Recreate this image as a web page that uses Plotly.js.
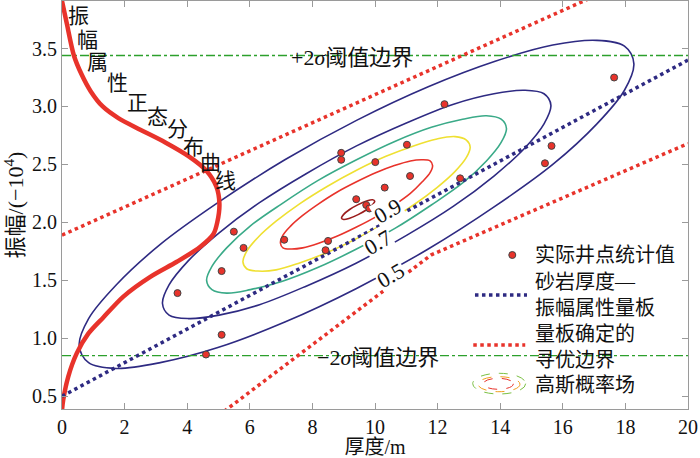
<!DOCTYPE html>
<html>
<head>
<meta charset="utf-8">
<script src="https://cdn.plot.ly/plotly-3.0.1.min.js"></script>
<style>html,body{margin:0;padding:0;background:#fff;}#chart{width:700px;height:458px;}</style>
</head>
<body>
<div id="chart"></div>
<script>
// ---- data ----
const xTicks = [0, 2, 4, 6, 8, 10, 12, 14, 16, 18, 20];
const yTicks = [0.5, 1.0, 1.5, 2.0, 2.5, 3.0, 3.5];
const yTickText = ['0.5', '1.0', '1.5', '2.0', '2.5', '3.0', '3.5'];

// well statistics (thickness m, amplitude)
const wellX = [3.69, 4.60, 5.10, 5.10, 5.49, 5.80, 7.10, 8.50, 8.42, 8.92, 8.92, 9.40, 9.72, 9.82, 10.01, 10.31, 11.02, 11.12, 12.22, 12.72, 15.43, 15.64, 17.64];
const wellY = [1.39, 0.86, 1.58, 1.03, 1.92, 1.78, 1.85, 1.84, 1.76, 2.60, 2.54, 2.20, 2.15, 2.12, 2.52, 2.30, 2.67, 2.40, 3.02, 2.38, 2.51, 2.66, 3.25];

// sand thickness - amplitude plate
const plateX = [0, 20];
const plateY = [0.50, 3.40];

// optimisation boundaries
const upperX = [0, 17];
const upperY = [1.89, 3.95];
const lowerX = [5.18, 11.8, 20];
const lowerY = [0.37, 1.72, 2.68];

// ±2σ thresholds
const sigmaX = [0, 20];
const plus2Sigma = 3.44;
const minus2Sigma = 0.85;

// amplitude normal distribution curve
const normX = [0.00, 0.15, 0.38, 0.62, 0.92, 1.30, 1.80, 2.50, 3.30, 4.05, 4.60, 4.93, 5.03, 4.96, 4.84, 4.42, 3.67, 2.82, 1.96, 1.32, 0.84, 0.47, 0.20, 0.04, 0.00];
const normY = [3.91, 3.72, 3.44, 3.28, 3.13, 3.00, 2.90, 2.80, 2.69, 2.57, 2.45, 2.31, 2.16, 2.00, 1.90, 1.79, 1.66, 1.53, 1.36, 1.18, 1.04, 0.87, 0.67, 0.47, 0.38];
const normLabel = ['振', '幅', '属', '性', '正', '态', '分', '布', '曲', '线'];
const normLabelX = [0.54, 0.83, 1.15, 1.76, 2.40, 3.04, 3.68, 4.19, 4.74, 5.22];
const normLabelY = [3.78, 3.57, 3.38, 3.20, 3.03, 2.905, 2.81, 2.65, 2.51, 2.36];

// Gaussian probability field contours (read outlines)
const outerX = [18.27, 17.97, 17.09, 15.68, 13.84, 11.70, 9.41, 7.12, 4.98, 3.14, 1.73, 0.85, 0.55, 0.85, 1.73, 3.14, 4.98, 7.12, 9.41, 11.70, 13.84, 15.68, 17.09, 17.97, 18.27];
const outerY = [3.37, 3.14, 2.85, 2.50, 2.14, 1.77, 1.43, 1.14, 0.92, 0.79, 0.74, 0.79, 0.94, 1.17, 1.46, 1.81, 2.17, 2.54, 2.88, 3.17, 3.39, 3.53, 3.57, 3.52, 3.37];
const c05X = [15.62, 15.40, 14.78, 13.80, 12.51, 11.02, 9.41, 7.80, 6.31, 5.02, 4.04, 3.42, 3.21, 3.42, 4.04, 5.02, 6.31, 7.80, 9.41, 11.02, 12.51, 13.80, 14.78, 15.40, 15.62];
const c05Y = [3.01, 2.85, 2.64, 2.40, 2.14, 1.89, 1.65, 1.45, 1.29, 1.20, 1.17, 1.20, 1.30, 1.46, 1.67, 1.91, 2.17, 2.42, 2.66, 2.86, 3.02, 3.11, 3.14, 3.11, 3.01];
const c07X = [14.20, 14.03, 13.56, 12.80, 11.80, 10.65, 9.41, 8.17, 7.02, 6.02, 5.26, 4.79, 4.62, 4.79, 5.26, 6.02, 7.02, 8.17, 9.41, 10.65, 11.80, 12.80, 13.56, 14.03, 14.20];
const c07Y = [2.81, 2.69, 2.53, 2.34, 2.15, 1.95, 1.77, 1.61, 1.49, 1.42, 1.39, 1.42, 1.50, 1.62, 1.78, 1.97, 2.16, 2.36, 2.54, 2.70, 2.82, 2.89, 2.92, 2.89, 2.81];
const c08X = [13.04, 12.92, 12.56, 11.98, 11.23, 10.35, 9.41, 8.47, 7.59, 6.84, 6.26, 5.90, 5.78, 5.90, 6.26, 6.84, 7.59, 8.47, 9.41, 10.35, 11.23, 11.98, 12.56, 12.92, 13.04];
const c08Y = [2.65, 2.56, 2.44, 2.30, 2.15, 2.00, 1.86, 1.74, 1.65, 1.59, 1.58, 1.60, 1.66, 1.75, 1.87, 2.01, 2.16, 2.31, 2.45, 2.57, 2.66, 2.72, 2.74, 2.71, 2.65];
const c09X = [11.84, 11.76, 11.51, 11.13, 10.62, 10.04, 9.41, 8.78, 8.20, 7.69, 7.31, 7.06, 6.98, 7.06, 7.31, 7.69, 8.20, 8.78, 9.41, 10.04, 10.62, 11.13, 11.51, 11.76, 11.84];
const c09Y = [2.49, 2.43, 2.35, 2.25, 2.15, 2.05, 1.96, 1.88, 1.82, 1.78, 1.77, 1.78, 1.82, 1.89, 1.97, 2.06, 2.16, 2.26, 2.35, 2.43, 2.49, 2.53, 2.54, 2.53, 2.49];
const c10X = [9.99, 9.92, 9.73, 9.46, 9.19, 9.00, 8.93, 9.00, 9.19, 9.46, 9.73, 9.92, 9.99];
const c10Y = [2.183, 2.151, 2.109, 2.067, 2.036, 2.025, 2.037, 2.069, 2.111, 2.153, 2.184, 2.195, 2.183];

const contourLabels = ['0.9', '0.7', '0.5'];
const contourLabelX = [10.43, 10.08, 10.50];
const contourLabelY = [2.10, 1.83, 1.54];

// legend entries
const legendEntries = ['实际井点统计值', '砂岩厚度—<br>振幅属性量板', '量板确定的<br>寻优边界', '高斯概率场'];
const legendEntryY = [0.3775, 0.2800, 0.1520, 0.0588];

// ---- styling ----
const FONT = 'Liberation Serif, Noto Sans CJK SC, serif';
const NAVY = '#2e2a82';
const RED = '#e8332b';
const GREEN = '#2ca02c';

function loop(x, y, color) {
  return {x: x, y: y, mode: 'lines', type: 'scatter', showlegend: false, hoverinfo: 'skip',
          line: {color: color, width: 1.6, shape: 'spline', smoothing: 1}};
}

const traces = [
  Object.assign(loop(outerX, outerY, NAVY), {name: '高斯概率场'}),
  loop(c05X, c05Y, NAVY),
  loop(c07X, c07Y, '#3aaa88'),
  loop(c08X, c08Y, '#efe032'),
  loop(c09X, c09Y, RED),
  loop(c10X, c10Y, '#9b1c1c'),
  {x: sigmaX, y: [plus2Sigma, plus2Sigma], mode: 'lines', showlegend: false, line: {color: GREEN, width: 1.3, dash: 'dashdot'}},
  {x: sigmaX, y: [minus2Sigma, minus2Sigma], mode: 'lines', showlegend: false, line: {color: GREEN, width: 1.3, dash: 'dashdot'}},
  {x: normX, y: normY, mode: 'lines', showlegend: false, line: {color: RED, width: 4.5, shape: 'spline', smoothing: 0.8}},
  {x: upperX, y: upperY, mode: 'lines', name: '量板确定的寻优边界', showlegend: false, line: {color: RED, width: 3.5, dash: 'dot'}},
  {x: lowerX, y: lowerY, mode: 'lines', showlegend: false, line: {color: RED, width: 3.5, dash: 'dot'}},
  {x: plateX, y: plateY, mode: 'lines', name: '砂岩厚度—振幅属性量板', showlegend: false, line: {color: NAVY, width: 3.5, dash: 'dot'}},
  {x: wellX, y: wellY, mode: 'markers', name: '实际井点统计值', showlegend: false,
   marker: {color: RED, size: 7, line: {color: '#444', width: 1}}}
];

const annotations = [];
normLabel.forEach((t, i) => annotations.push({x: normLabelX[i], y: normLabelY[i], text: t, showarrow: false,
  font: {family: FONT, size: 21, color: '#111'}}));
contourLabels.forEach((t, i) => annotations.push({x: contourLabelX[i], y: contourLabelY[i], text: t, showarrow: false,
  textangle: -30, bgcolor: '#ffffff', borderpad: 0, font: {family: FONT, size: 22, color: '#111'}}));
annotations.push({x: 9.28, y: 3.42, text: '+2<i>σ</i>阈值边界', showarrow: false, font: {family: FONT, size: 22, color: '#111'}});
annotations.push({x: 10.1, y: 0.835, text: '−2<i>σ</i>阈值边界', showarrow: false, font: {family: FONT, size: 22, color: '#111'}});
legendEntries.forEach((t, i) => annotations.push({xref: 'paper', yref: 'paper', x: 0.7524, y: legendEntryY[i], text: t,
  xanchor: 'left', yanchor: 'middle', align: 'left', showarrow: false, font: {family: FONT, size: 20, color: '#111'}}));

// legend glyphs
const shapes = [
  {type: 'circle', xref: 'paper', yref: 'paper', x0: 0.7137, x1: 0.7249, y0: 0.3689, y1: 0.3860, fillcolor: RED, line: {color: '#444', width: 1}},
  {type: 'line', xref: 'paper', yref: 'paper', x0: 0.6597, x1: 0.7428, y0: 0.2794, y1: 0.2794, line: {color: NAVY, width: 3.5, dash: 'dot'}},
  {type: 'line', xref: 'paper', yref: 'paper', x0: 0.6570, x1: 0.7400, y0: 0.1569, y1: 0.1569, line: {color: RED, width: 3.5, dash: 'dot'}},
  {type: 'circle', xref: 'paper', yref: 'paper', x0: 0.6561, x1: 0.7407, y0: 0.0368, y1: 0.0875, line: {color: '#7bc043', width: 1, dash: 'dash'}},
  {type: 'circle', xref: 'paper', yref: 'paper', x0: 0.6645, x1: 0.7316, y0: 0.0424, y1: 0.0792, line: {color: '#f0a020', width: 1, dash: 'dash'}},
  {type: 'circle', xref: 'paper', yref: 'paper', x0: 0.6730, x1: 0.7210, y0: 0.0483, y1: 0.0752, line: {color: RED, width: 1, dash: 'dash'}}
];

const axisCommon = {showline: true, linecolor: '#9a9a9a', linewidth: 1, mirror: 'ticks', ticks: 'inside', ticklen: 6,
  tickcolor: '#9a9a9a', showgrid: false, zeroline: false, tickfont: {family: FONT, size: 20, color: '#111'}};

const layout = {
  width: 700, height: 458,
  margin: {l: 62, r: 12, t: 1, b: 49},
  paper_bgcolor: '#ffffff', plot_bgcolor: '#ffffff',
  font: {family: FONT, color: '#111'},
  showlegend: false,
  xaxis: Object.assign({}, axisCommon, {range: [0, 20], tickvals: xTicks,
    title: {text: '厚度/m', font: {family: FONT, size: 20, color: '#111'}, standoff: 9}}),
  yaxis: Object.assign({}, axisCommon, {range: [0.39, 3.91], tickvals: yTicks, ticktext: yTickText,
    title: {text: '振幅/(−10<sup>4</sup>)', font: {family: FONT, size: 22, color: '#111'}, standoff: 2}}),
  annotations: annotations,
  shapes: shapes
};

Plotly.newPlot('chart', traces, layout, {displayModeBar: false, staticPlot: true});
</script>
</body>
</html>
